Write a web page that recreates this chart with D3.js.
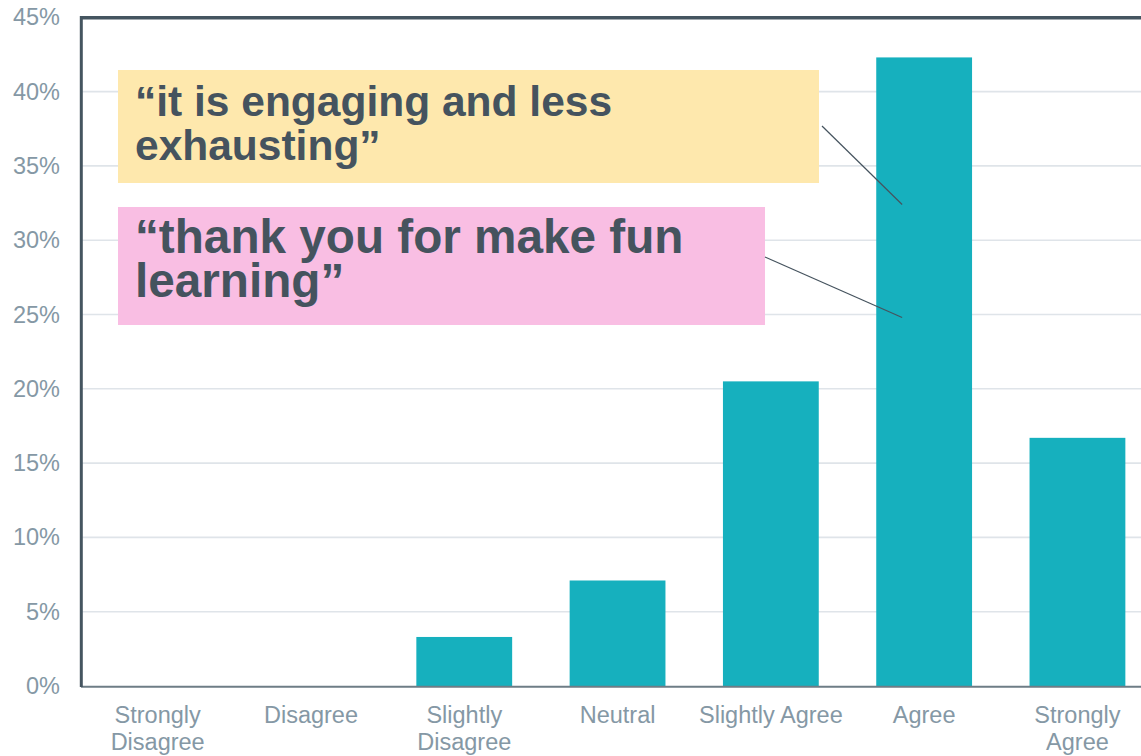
<!DOCTYPE html>
<html lang="en">
<head>
<meta charset="utf-8">
<script src="https://d3js.org/d3.v7.min.js"></script>
<style type="text/css">
body { margin: 0; background: #fff; }
svg text { font-family: "Liberation Sans", Arial, sans-serif; }
.axis text { fill: #8598a5; font-size: 23.5px; }
.note { fill: #45535e; font-weight: bold; }
</style>
</head>
<body>
<div id="chart"></div>
<script type="text/javascript">

// survey answers and share of responses (%)
var categories = ["Strongly Disagree", "Disagree", "Slightly Disagree", "Neutral",
                  "Slightly Agree", "Agree", "Strongly Agree"];
var values = [0, 0, 3.3, 7.1, 20.5, 42.3, 16.7];
var yTicks = [0, 5, 10, 15, 20, 25, 30, 35, 40, 45];

// quotes shown on top of the chart
var quoteYellow = ["\u201cit is engaging and less", "exhausting\u201d"];
var quotePink = ["\u201cthank you for make fun", "learning\u201d"];

var width = 1141, height = 756;
var plotLeft = 81, plotTop = 17.3, plotBottom = 686;

var svg = d3.select("#chart")
  .append("svg")
  .attr("width", width)
  .attr("height", height);

var x = d3.scaleBand()
  .domain(categories)
  .range([plotLeft, plotLeft + 7 * 153.3])
  .paddingInner(0.375)
  .paddingOuter(0.1875);

var y = d3.scaleLinear()
  .domain([0, 45])
  .range([plotBottom, plotTop]);

// grid lines
svg.append("g")
  .selectAll("line")
  .data(yTicks.slice(1))
  .enter()
  .append("line")
  .attr("x1", plotLeft)
  .attr("x2", width)
  .attr("y1", function(d) { return y(d); })
  .attr("y2", function(d) { return y(d); })
  .style("stroke", "#dfe4e9")
  .style("stroke-width", 1.6);

// y axis labels
var yAxis = d3.axisLeft(y)
  .tickValues(yTicks)
  .tickSize(0)
  .tickPadding(21)
  .tickFormat(function(d) { return d + "%"; });

svg.append("g")
  .attr("class", "axis")
  .attr("transform", "translate(" + plotLeft + ",0)")
  .call(yAxis)
  .call(function(g) { g.select(".domain").remove(); });

// bars
svg.append("g")
  .selectAll("rect")
  .data(values)
  .enter()
  .append("rect")
  .attr("x", function(d, i) { return x(categories[i]); })
  .attr("width", x.bandwidth())
  .attr("y", function(d) { return y(d); })
  .attr("height", function(d) { return plotBottom - y(d); })
  .style("fill", "#16b0be");

// x axis labels, wrapped to the band
var xAxis = d3.axisBottom(x).tickSize(0).tickPadding(0);
var xg = svg.append("g")
  .attr("class", "axis")
  .attr("transform", "translate(0," + plotBottom + ")")
  .call(xAxis);
xg.select(".domain").remove();
xg.selectAll(".tick text")
  .attr("y", 37)
  .attr("dy", 0)
  .each(function(d) {
    var t = d3.select(this);
    var words = d.split(" "), lines = [], cur = [];
    t.text(null);
    var probe = t.append("tspan");
    words.forEach(function(w) {
      cur.push(w);
      probe.text(cur.join(" "));
      if (probe.node().getComputedTextLength() > x.step() - 2 && cur.length > 1) {
        cur.pop();
        lines.push(cur.join(" "));
        cur = [w];
      }
    });
    lines.push(cur.join(" "));
    probe.remove();
    lines.forEach(function(l, i) {
      t.append("tspan").attr("x", 0).attr("y", 37 + i * 27).text(l);
    });
  });

// frame: left and top dark lines, bottom axis line
svg.append("line")
  .attr("x1", plotLeft).attr("x2", width)
  .attr("y1", plotBottom + 0.8).attr("y2", plotBottom + 0.8)
  .style("stroke", "#6e7d86")
  .style("stroke-width", 2);
svg.append("line")
  .attr("x1", plotLeft - 0.5).attr("x2", width)
  .attr("y1", 17.8).attr("y2", 17.8)
  .style("stroke", "#455560")
  .style("stroke-width", 3.6);
svg.append("line")
  .attr("x1", 81.3).attr("x2", 81.3)
  .attr("y1", 16).attr("y2", plotBottom + 1)
  .style("stroke", "#455560")
  .style("stroke-width", 3);

// quote boxes
var agreeX = x("Agree") + x.bandwidth() * 0.27;

function quote(lines, fill, x0, y0, x1, y1, size, base, lead, target) {
  svg.append("rect")
    .attr("x", x0).attr("y", y0)
    .attr("width", x1 - x0).attr("height", y1 - y0)
    .style("fill", fill);
  var t = svg.append("text")
    .attr("class", "note")
    .style("font-size", size + "px");
  lines.forEach(function(l, i) {
    t.append("tspan").attr("x", 135).attr("y", base + i * lead).text(l);
  });
  svg.append("line")
    .attr("x1", target[0]).attr("y1", target[1])
    .attr("x2", agreeX).attr("y2", y(target[2]))
    .style("stroke", "#45535e")
    .style("stroke-width", 1.2);
}

quote(quoteYellow, "#fee8ad", 118, 70, 819, 183, 42.5, 116, 44, [822, 126, 32.4]);
quote(quotePink, "#f9bee3", 118, 207, 765, 325, 47.7, 252.7, 44.6, [765, 257, 24.8]);

</script>
</body>
</html>
